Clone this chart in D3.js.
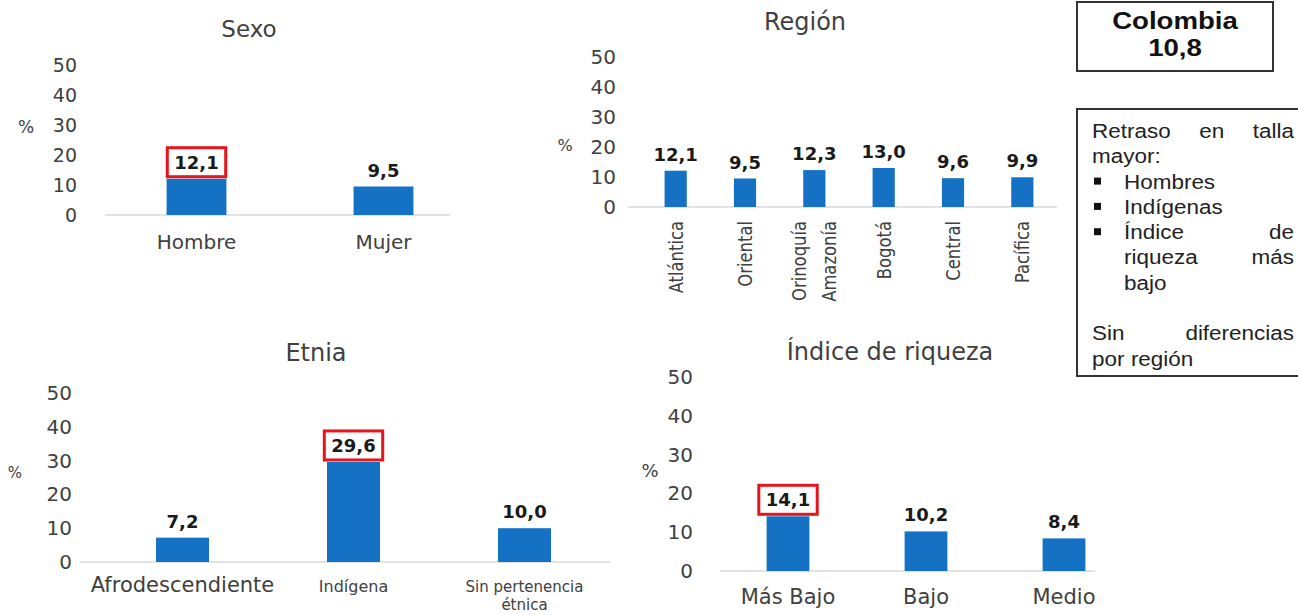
<!DOCTYPE html>
<html>
<head>
<meta charset="utf-8">
<script src="https://cdn.jsdelivr.net/npm/d3@7"></script>
<style>
  body { margin: 0; background: #fff; }
  svg { display: block; font-family: "DejaVu Sans", sans-serif; }
</style>
</head>
<body>
<svg id="chart" width="1298" height="615"></svg>
<script>
// data
const sexoCats = ["Hombre", "Mujer"];
const sexoVals = [12.1, 9.5];
const regionCats = ["Atlántica", "Oriental", "Orinoquía\nAmazonía", "Bogotá", "Central", "Pacífica"];
const regionVals = [12.1, 9.5, 12.3, 13.0, 9.6, 9.9];
const etniaCats = ["Afrodescendiente", "Indígena", "Sin pertenencia\nétnica"];
const etniaVals = [7.2, 29.6, 10.0];
const riquezaCats = ["Más Bajo", "Bajo", "Medio"];
const riquezaVals = [14.1, 10.2, 8.4];
const yTicks = [0, 10, 20, 30, 40, 50];
const highlighted = ["Hombre", "Indígena", "Más Bajo"];
const colombiaLines = ["Colombia", "10,8"];
const noteLines = [
  { words: ["Retraso", "en", "talla"], justify: true },
  { words: ["mayor:"] },
  { words: ["Hombres"], bullet: true },
  { words: ["Indígenas"], bullet: true },
  { words: ["Índice", "de"], bullet: true, justify: true },
  { words: ["riqueza", "más"], indent: true, justify: true },
  { words: ["bajo"], indent: true },
  { words: [] },
  { words: ["Sin", "diferencias"], justify: true },
  { words: ["por", "región"] }
];

const BLUE = "#1471c4";
const RED = "#e8141c";
const TEXT = "#404040";
const fmt = v => d3.format(".1f")(v).replace(".", ",");

const svg = d3.select("#chart");

function drawPanel(cats, vals, o) {
  const g = svg.append("g");
  const x = d3.scaleBand().domain(cats).range([o.x0, o.x1]).paddingInner(o.pad).paddingOuter(o.pad / 2);
  const y = d3.scaleLinear().domain([0, 50]).range([o.yBase, o.yTop]);

  g.append("text").attr("x", o.titleX).attr("y", o.titleY).attr("text-anchor", "middle")
    .attr("dominant-baseline", "central").attr("font-size", o.titleFont).attr("fill", TEXT).text(o.title);

  g.append("text").attr("x", o.pctX).attr("y", o.pctY).attr("text-anchor", "middle")
    .attr("dominant-baseline", "central").attr("font-size", o.pctFont).attr("fill", TEXT).text("%");

  const axis = g.append("g").attr("transform", `translate(${o.axisX},0)`)
    .call(d3.axisLeft(y).tickValues(yTicks).tickSize(0).tickPadding(3));
  axis.select(".domain").remove();
  axis.selectAll("text").attr("font-size", o.tickFont).attr("fill", TEXT)
    .attr("font-family", "DejaVu Sans, sans-serif");

  g.append("line").attr("x1", o.baseL).attr("x2", o.baseR)
    .attr("y1", y(0)).attr("y2", y(0)).attr("stroke", "#d9d9d9").attr("stroke-width", 1.5);

  const data = cats.map((c, i) => ({ c, v: vals[i] }));

  g.selectAll("rect.bar").data(data).enter().append("rect").attr("class", "bar")
    .attr("x", d => x(d.c)).attr("width", x.bandwidth())
    .attr("y", d => y(d.v)).attr("height", d => y(0) - y(d.v))
    .attr("fill", BLUE);

  const vl = g.selectAll("text.val").data(data).enter().append("text").attr("class", "val")
    .attr("x", d => x(d.c) + x.bandwidth() / 2).attr("y", d => y(d.v) - 10)
    .attr("text-anchor", "middle").attr("font-size", o.valFont).attr("font-weight", "bold")
    .attr("fill", "#1a1a1a").text(d => fmt(d.v));

  vl.each(function(d) {
    if (!highlighted.includes(d.c)) return;
    const b = this.getBBox();
    g.insert("rect", "text.val").attr("x", b.x - 7).attr("y", b.y - 4)
      .attr("width", b.width + 14).attr("height", b.height + 8)
      .attr("fill", "#fff").attr("stroke", RED).attr("stroke-width", 3);
  });

  data.forEach((d, i) => {
    const lines = d.c.split("\n");
    const cx = x(d.c) + x.bandwidth() / 2;
    const fs = o.labelFonts ? o.labelFonts[i] : o.labelFont;
    lines.forEach((ln, k) => {
      if (o.rotate) {
        const off = (k - (lines.length - 1) / 2) * 30;
        g.append("text")
          .attr("transform", `translate(${cx + off + 7},${o.labelY}) rotate(-90) scale(0.82,1)`)
          .attr("text-anchor", "end").attr("font-size", fs).attr("fill", TEXT).text(ln);
      } else {
        g.append("text").attr("x", cx).attr("y", o.labelY + k * 18)
          .attr("text-anchor", "middle").attr("font-size", fs).attr("fill", TEXT).text(ln);
      }
    });
  });
}

drawPanel(sexoCats, sexoVals, {
  title: "Sexo", titleX: 249, titleY: 29, titleFont: 23, pctX: 26, pctY: 127, pctFont: 17,
  x0: 103, x1: 477, pad: 0.68, yBase: 215, yTop: 65, axisX: 80, tickFont: 19,
  baseL: 105, baseR: 450, valFont: 18, labelFont: 20, labelY: 249
});
drawPanel(regionCats, regionVals, {
  title: "Región", titleX: 805, titleY: 22, titleFont: 24, pctX: 565, pctY: 145, pctFont: 16,
  x0: 641, x1: 1057, pad: 0.68, yBase: 207, yTop: 57, axisX: 619, tickFont: 20,
  baseL: 628, baseR: 1057, valFont: 18, labelFont: 20, labelY: 221, rotate: true
});
drawPanel(etniaCats, etniaVals, {
  title: "Etnia", titleX: 316, titleY: 353, titleFont: 24, pctX: 15, pctY: 473, pctFont: 15,
  x0: 97, x1: 610, pad: 0.69, yBase: 562, yTop: 393, axisX: 75, tickFont: 20,
  baseL: 80, baseR: 610, valFont: 18, labelFonts: [21, 16, 15], labelY: 592
});
drawPanel(riquezaCats, riquezaVals, {
  title: "Índice de riqueza", titleX: 890, titleY: 352, titleFont: 24, pctX: 650, pctY: 470, pctFont: 18,
  x0: 719, x1: 1133, pad: 0.69, yBase: 571, yTop: 377, axisX: 696, tickFont: 20,
  baseL: 720, baseR: 1095, valFont: 18, labelFont: 21, labelY: 604
});

// Colombia box
const cb = svg.append("g");
cb.append("rect").attr("x", 1077).attr("y", 2).attr("width", 196).attr("height", 69)
  .attr("fill", "#fff").attr("stroke", "#333").attr("stroke-width", 2);
colombiaLines.forEach((t, i) => {
  cb.append("text").attr("transform", `translate(1175,${29 + i * 27}) scale(1.2,1)`)
    .attr("text-anchor", "middle")
    .attr("font-family", "Liberation Sans, Arial, sans-serif").attr("font-weight", "bold")
    .attr("font-size", 23).attr("fill", "#111").text(t);
});

// note box (text slightly widened like the original)
const STRETCH = 1.07;
const left = 1092, right = 1294, indentX = 1124;
svg.append("rect").attr("x", 1077).attr("y", 109).attr("width", 230).attr("height", 267)
  .attr("fill", "#fff").attr("stroke", "#333").attr("stroke-width", 2);
const nb = svg.append("g").attr("font-family", "Liberation Sans, Arial, sans-serif")
  .attr("font-size", 21).attr("fill", "#222")
  .attr("transform", `translate(${left},0) scale(${STRETCH},1)`);
noteLines.forEach((ln, i) => {
  const yy = 138 + i * 25.3;
  if (ln.bullet) {
    svg.append("rect").attr("x", 1094).attr("y", yy - 11).attr("width", 7).attr("height", 7).attr("fill", "#111");
  }
  const x0 = ((ln.bullet || ln.indent) ? indentX - left : 0) / STRETCH;
  const xr = (right - left) / STRETCH;
  const words = ln.words.map(w => nb.append("text").attr("y", yy).text(w));
  if (!words.length) return;
  const widths = words.map(t => t.node().getComputedTextLength());
  let gap = 6;
  if (ln.justify && words.length > 1) {
    gap = (xr - x0 - d3.sum(widths)) / (words.length - 1);
  }
  let cx = x0;
  words.forEach((t, k) => { t.attr("x", cx); cx += widths[k] + gap; });
});
</script>
</body>
</html>
